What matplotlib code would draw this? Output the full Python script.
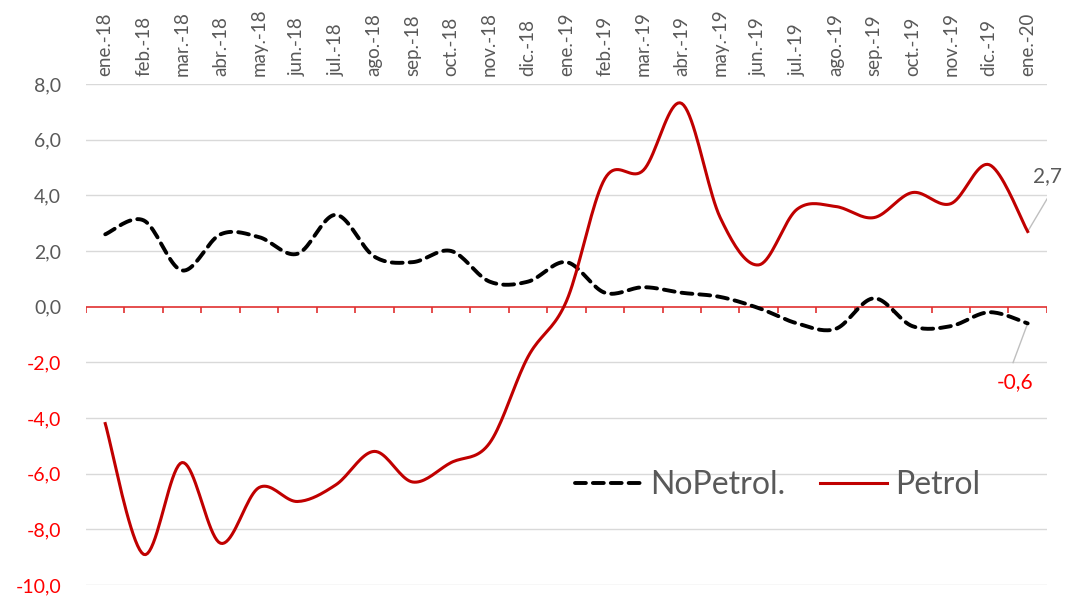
import matplotlib
matplotlib.use('Agg')
import matplotlib.pyplot as plt
import numpy as np

# Monthly categories and series values
months = ["ene.-18", "feb.-18", "mar.-18", "abr.-18", "may.-18", "jun.-18", "jul.-18",
          "ago.-18", "sep.-18", "oct.-18", "nov.-18", "dic.-18", "ene.-19", "feb.-19",
          "mar.-19", "abr.-19", "may.-19", "jun.-19", "jul.-19", "ago.-19", "sep.-19",
          "oct.-19", "nov.-19", "dic.-19", "ene.-20"]
no_petrol = [2.6, 3.1, 1.3, 2.6, 2.5, 1.9, 3.3, 1.8, 1.6, 2.0, 0.9, 0.9, 1.6, 0.5,
             0.7, 0.5, 0.35, -0.05, -0.6, -0.8, 0.3, -0.7, -0.7, -0.2, -0.6]
petrol = [-4.2, -8.9, -5.6, -8.5, -6.5, -7.0, -6.4, -5.2, -6.3, -5.6, -4.9, -1.8, 0.2,
          4.6, 4.9, 7.3, 3.2, 1.5, 3.5, 3.6, 3.2, 4.1, 3.7, 5.1, 2.7]
yticks = [8, 6, 4, 2, 0, -2, -4, -6, -8, -10]

plt.rcParams['font.family'] = ['Lato', 'DejaVu Sans']

GREY = '#595959'
RED = '#C00000'


def smooth(xs, ys, n=20):
    # Catmull-Rom style smoothing like Excel's "smoothed line"
    x = np.asarray(xs, float)
    y = np.asarray(ys, float)
    px = np.concatenate([[x[0]], x, [x[-1]]])
    py = np.concatenate([[y[0]], y, [y[-1]]])
    outx, outy = [], []
    t = np.linspace(0, 1, n, endpoint=False)
    for i in range(1, len(px) - 2):
        p0, p1, p2, p3 = py[i - 1], py[i], py[i + 1], py[i + 2]
        q0, q1, q2, q3 = px[i - 1], px[i], px[i + 1], px[i + 2]
        for arr, a0, a1, a2, a3 in ((outy, p0, p1, p2, p3), (outx, q0, q1, q2, q3)):
            c1 = a1 + (a2 - a0) / 6
            c2 = a2 - (a3 - a1) / 6
            arr.extend((1 - t) ** 3 * a1 + 3 * (1 - t) ** 2 * t * c1
                       + 3 * (1 - t) * t ** 2 * c2 + t ** 3 * a2)
    outx.append(x[-1])
    outy.append(y[-1])
    return np.array(outx), np.array(outy)


fig = plt.figure(figsize=(10.7, 6), dpi=100)
ax = fig.add_axes([0.0804, 0.025, 0.898, 0.835])

x = np.arange(len(months))
ax.set_xlim(-0.5, len(months) - 0.5)
ax.set_ylim(-10, 8)

for v in yticks:
    if v != 0:
        ax.axhline(v, color='#D9D9D9', lw=1, zorder=0)
ax.axhline(0, color='#E03030', lw=1.2, zorder=1)
ax.vlines(np.arange(len(months) + 1) - 0.5, -0.22, 0, color='#E03030', lw=1.2, zorder=1)

sx, sy = smooth(x, no_petrol)
ax.plot(sx, sy, color='black', lw=2.8, ls=(0, (2.8, 1.8)), dash_capstyle='round',
        label='NoPetrol.', zorder=3)
sx, sy = smooth(x, petrol)
ax.plot(sx, sy, color=RED, lw=2.2, label='Petrol', zorder=3)

for s in ax.spines.values():
    s.set_visible(False)

ax.xaxis.tick_top()
ax.set_xticks(x)
ax.set_xticklabels(months, rotation=90, fontsize=13.5, color=GREY)
ax.tick_params(axis='x', length=0, pad=6)

ax.set_yticks(yticks)
ax.set_yticklabels([f"{v:.1f}".replace('.', ',') for v in yticks], fontsize=14)
ax.tick_params(axis='y', length=0, pad=18)
for lab, v in zip(ax.get_yticklabels(), yticks):
    lab.set_color(GREY if v >= 0 else '#FF0000')

# end labels with leader lines
ax.plot([24, 24.62], [petrol[-1], 4.14], color='#BFBFBF', lw=1, zorder=2)
ax.text(24.15, 4.68, "2,7", fontsize=15, color=GREY, ha='left', va='center')
ax.plot([24, 23.62], [no_petrol[-1], -2.01], color='#BFBFBF', lw=1, zorder=2)
ax.text(23.66, -2.7, "-0,6", fontsize=15, color='#FF0000', ha='center', va='center')

leg = ax.legend(loc='center left', bbox_to_anchor=(0.479, 0.2), ncol=2, frameon=False,
                fontsize=23, handlelength=2.1, columnspacing=1.1, handletextpad=0.25)
for t in leg.get_texts():
    t.set_color(GREY)

fig.savefig('out.png', dpi=100)
